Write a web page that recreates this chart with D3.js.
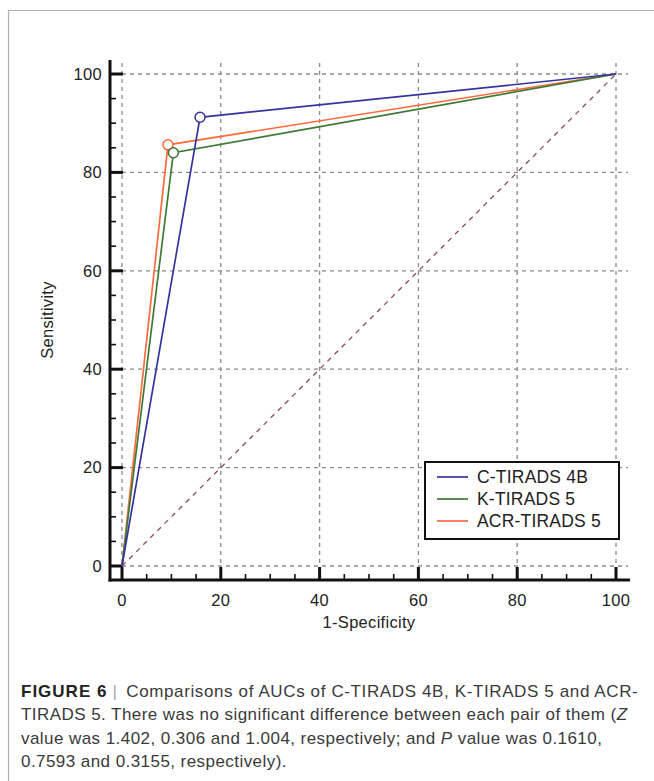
<!DOCTYPE html>
<html>
<head>
<meta charset="utf-8">
<script src="https://cdn.jsdelivr.net/npm/d3@7"></script>
<style>
  body { margin: 0; background: #fff; }
  svg { display: block; font-family: "Liberation Sans", Arial, sans-serif; }
</style>
</head>
<body>
<svg id="roc" width="654" height="781"></svg>
<script>
const seriesNames = ["ACR-TIRADS 5", "K-TIRADS 5", "C-TIRADS 4B"];
const seriesColors = ["#ff6a3d", "#3d7a35", "#34349e"];
const oneMinusSpec = [[0, 9.3, 100], [0, 10.4, 100], [0, 15.8, 100]];
const sensitivity = [[0, 85.6, 100], [0, 84.0, 100], [0, 91.2, 100]];
const legendOrder = ["C-TIRADS 4B", "K-TIRADS 5", "ACR-TIRADS 5"];
const majorTicks = [0, 20, 40, 60, 80, 100];
const minorTicks = d3.range(0, 101, 5);
const captionLines = [
  [["b", "FIGURE 6"], ["sep", "|"], ["t", "Comparisons of AUCs of C-TIRADS 4B, K-TIRADS 5 and ACR-"]],
  [["t", "TIRADS 5. There was no significant difference between each pair of them ("], ["i", "Z"]],
  [["t", "value was 1.402, 0.306 and 1.004, respectively; and "], ["i", "P"], ["t", " value was 0.1610,"]],
  [["t", "0.7593 and 0.3155, respectively)."]]
];

const svg = d3.select("#roc");

// frame
svg.append("path")
  .attr("d", "M8.5,781 V10.5 H654")
  .attr("fill", "none")
  .attr("stroke", "#b0b0b0")
  .attr("stroke-width", 1.2);

const x = d3.scaleLinear().domain([0, 100]).range([122, 616]);
const y = d3.scaleLinear().domain([0, 100]).range([566, 74]);
const axisX = 110, axisY = 580;

// grid
const grid = svg.append("g").attr("stroke", "#8a8a8a").attr("stroke-width", 1.3).attr("stroke-dasharray", "4,4");
grid.selectAll(null).data(majorTicks).enter().append("line")
  .attr("x1", x(0)).attr("x2", 628)
  .attr("y1", d => y(d)).attr("y2", d => y(d));
grid.selectAll(null).data(majorTicks).enter().append("line")
  .attr("x1", d => x(d)).attr("x2", d => x(d))
  .attr("y1", 63).attr("y2", axisY);

// axes
const ax = svg.append("g").attr("stroke", "#111");
ax.append("line").attr("x1", axisX).attr("x2", axisX).attr("y1", 60).attr("y2", axisY + 1.5)
  .attr("stroke-width", 3);
ax.append("line").attr("x1", axisX - 1.5).attr("x2", 630).attr("y1", axisY).attr("y2", axisY)
  .attr("stroke-width", 3);
ax.selectAll(null).data(minorTicks).enter().append("line")
  .attr("x1", axisX).attr("x2", d => axisX + (d % 20 === 0 ? 13 : 6))
  .attr("y1", d => y(d)).attr("y2", d => y(d))
  .attr("stroke-width", d => d % 20 === 0 ? 3 : 1.6);
ax.selectAll(null).data(minorTicks).enter().append("line")
  .attr("x1", d => x(d)).attr("x2", d => x(d))
  .attr("y1", axisY).attr("y2", d => axisY - (d % 20 === 0 ? 13 : 6))
  .attr("stroke-width", d => d % 20 === 0 ? 3 : 1.6);

const lab = svg.append("g").attr("font-size", 16.5).attr("fill", "#222").attr("letter-spacing", 0.3);
lab.selectAll(null).data(majorTicks).enter().append("text")
  .attr("x", 102).attr("y", d => y(d)).attr("dy", "0.35em")
  .attr("text-anchor", "end")
  .text(d => d);
lab.selectAll(null).data(majorTicks).enter().append("text")
  .attr("x", d => x(d)).attr("y", 600).attr("dy", "0.35em")
  .attr("text-anchor", "middle")
  .text(d => d);

lab.append("text").attr("x", x(50)).attr("y", 622).attr("dy", "0.35em")
  .attr("text-anchor", "middle")
  .text("1-Specificity");
lab.append("text").attr("transform", `translate(47,${y(50)}) rotate(-90)`).attr("dy", "0.35em")
  .attr("text-anchor", "middle")
  .text("Sensitivity");

// chance line
svg.append("line")
  .attr("x1", x(0)).attr("y1", y(0)).attr("x2", x(100)).attr("y2", y(100))
  .attr("stroke", "#8c4a5c").attr("stroke-width", 1.3).attr("stroke-dasharray", "5,5");

// curves
const line = d3.line().x(d => x(d[0])).y(d => y(d[1]));
seriesNames.forEach((name, i) => {
  const pts = oneMinusSpec[i].map((v, j) => [v, sensitivity[i][j]]);
  svg.append("path").datum(pts)
    .attr("d", line)
    .attr("fill", "none")
    .attr("stroke", seriesColors[i])
    .attr("stroke-width", 1.7);
  svg.append("circle")
    .attr("cx", x(pts[1][0])).attr("cy", y(pts[1][1])).attr("r", 5)
    .attr("fill", "#fff").attr("stroke", seriesColors[i]).attr("stroke-width", 1.5);
});

// legend
const legend = svg.append("g");
legend.append("rect").attr("x", 425).attr("y", 462).attr("width", 194).attr("height", 77)
  .attr("fill", "#fff").attr("stroke", "#111").attr("stroke-width", 2);
legendOrder.forEach((name, k) => {
  const i = seriesNames.indexOf(name);
  const ly = 477 + k * 22;
  legend.append("line").attr("x1", 437).attr("x2", 468).attr("y1", ly).attr("y2", ly)
    .attr("stroke", seriesColors[i]).attr("stroke-width", 1.7);
  legend.append("text").attr("x", 477).attr("y", ly).attr("dy", "0.35em")
    .attr("font-size", 17.5).attr("letter-spacing", 0.2).attr("fill", "#222").text(name);
});

// caption
const cap = svg.append("g").attr("font-size", 17).attr("letter-spacing", 0.44).attr("fill", "#3a3a3a");
captionLines.forEach((parts, k) => {
  const t = cap.append("text").attr("x", 21).attr("y", 697 + k * 23.4);
  parts.forEach(([kind, s]) => {
    const ts = t.append("tspan").text(s);
    if (kind === "b") ts.attr("font-weight", "bold").attr("fill", "#222").attr("letter-spacing", 1);
    if (kind === "i") ts.attr("font-style", "italic");
    if (kind === "sep") ts.attr("fill", "#aaa").attr("dx", 5);
    if (kind === "t" && k === 0) ts.attr("dx", 9).attr("letter-spacing", 0.62);
  });
});
</script>
</body>
</html>
